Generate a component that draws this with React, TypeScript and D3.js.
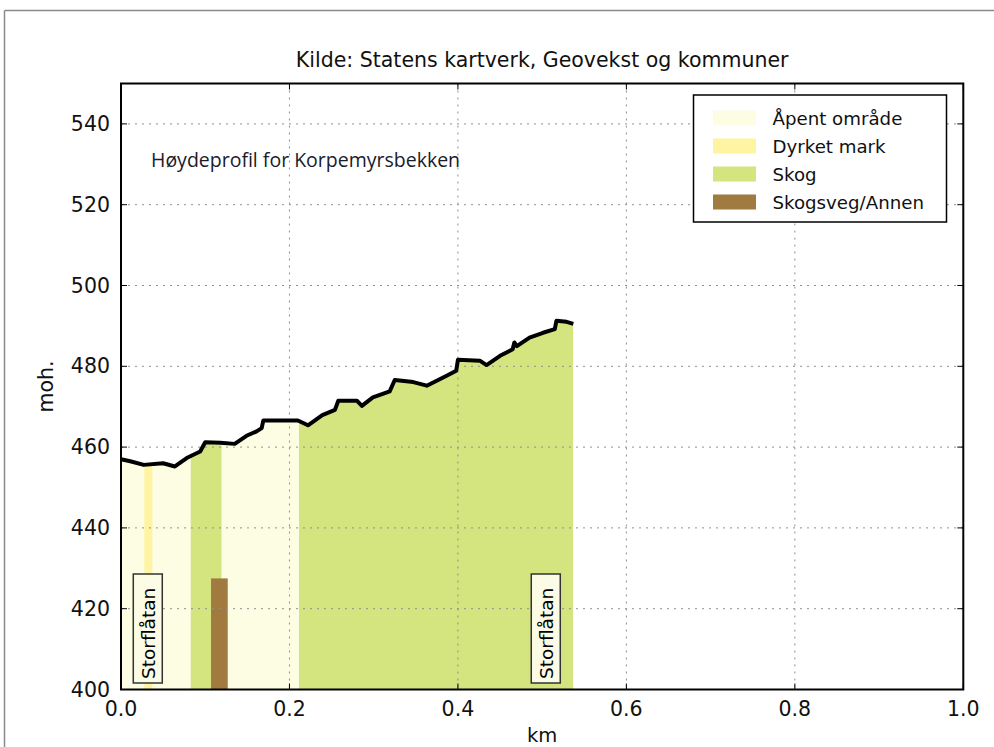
import React from 'react';
import * as d3 from 'd3';

const profileKm = [0.0, 0.011, 0.027, 0.050, 0.064, 0.078, 0.094, 0.100, 0.118, 0.135, 0.149, 0.161, 0.167, 0.169, 0.210, 0.222, 0.239, 0.254, 0.258, 0.280, 0.286, 0.299, 0.319, 0.325, 0.347, 0.363, 0.386, 0.398, 0.400, 0.426, 0.434, 0.450, 0.465, 0.467, 0.470, 0.485, 0.501, 0.515, 0.517, 0.529, 0.537];
const profileElev = [457.0, 456.5, 455.6, 456.0, 455.2, 457.3, 458.9, 461.2, 461.1, 460.8, 462.8, 463.9, 464.7, 466.6, 466.6, 465.4, 467.9, 469.2, 471.5, 471.5, 470.2, 472.3, 473.8, 476.6, 476.1, 475.2, 477.6, 478.9, 481.6, 481.4, 480.3, 482.6, 484.2, 485.9, 485.0, 487.1, 488.3, 489.2, 491.3, 491.0, 490.5];

const coverNames = ['Åpent område', 'Dyrket mark', 'Skog', 'Skogsveg/Annen'];
const coverColors = ['#fdfde3', '#fff4a2', '#d4e47f', '#a07a3f'];

const segStart = [0.0, 0.0277, 0.0828, 0.1196, 0.2113];
const segEnd = [0.0828, 0.0372, 0.1196, 0.2113, 0.537];
const segCover = [0, 1, 2, 0, 2];

const roadStart = [0.1069];
const roadEnd = [0.1267];
const roadTop = [427.5];
const roadCover = [3];

const placeNames = ['Storflåtan', 'Storflåtan'];
const placeKm = [0.0318, 0.5043];

const xTicks = [0.0, 0.2, 0.4, 0.6, 0.8, 1.0];
const yTicks = [400, 420, 440, 460, 480, 500, 520, 540];

const titleText = 'Kilde: Statens kartverk, Geovekst og kommuner';
const noteText = 'Høydeprofil for Korpemyrsbekken';
const xLabel = 'km';
const yLabel = 'moh.';

export default function App() {
  const left = 121, right = 963.3, top = 83.5, bottom = 689.5;
  const x = d3.scaleLinear().domain([0, 1]).range([left, right]);
  const y = d3.scaleLinear().domain([400, 550]).range([bottom, top]);

  const pts: [number, number][] = profileKm.map((k, i) => [k, profileElev[i]]);
  const area = d3.area<[number, number]>().x(d => x(d[0])).y0(y(400)).y1(d => y(d[1]));
  const line = d3.line<[number, number]>().x(d => x(d[0])).y(d => y(d[1]));

  const font = "'DejaVu Sans', sans-serif";
  const tickLen = 6;

  return (
    <svg width={994} height={747} style={{ position: 'absolute', left: 0, top: 0, background: '#fff' }}>
      <rect x={0} y={0} width={994} height={747} fill="#fff" />
      {/* outer frame */}
      <line x1={4.5} y1={10.5} x2={994} y2={10.5} stroke="#8a8a8a" strokeWidth={1.5} />
      <line x1={4.5} y1={10.5} x2={4.5} y2={747} stroke="#8a8a8a" strokeWidth={1.5} />

      <defs>
        <clipPath id="profileClip">
          <path d={area(pts) || ''} />
        </clipPath>
      </defs>

      <g clipPath="url(#profileClip)">
        {segStart.map((s, i) => (
          <rect key={i} x={x(s)} y={top} width={x(segEnd[i]) - x(s)} height={bottom - top} fill={coverColors[segCover[i]]} />
        ))}
      </g>
      {roadStart.map((s, i) => (
        <rect key={i} x={x(s)} y={y(roadTop[i])} width={x(roadEnd[i]) - x(s)} height={y(400) - y(roadTop[i])} fill={coverColors[roadCover[i]]} />
      ))}

      {/* grid */}
      {xTicks.map((t, i) => (
        <line key={'gx' + i} x1={x(t)} x2={x(t)} y1={top} y2={bottom} stroke="#8f8f8f" strokeWidth={1} strokeDasharray="2,5" />
      ))}
      {yTicks.map((t, i) => (
        <line key={'gy' + i} x1={left} x2={right} y1={y(t)} y2={y(t)} stroke="#8f8f8f" strokeWidth={1} strokeDasharray="2,5" />
      ))}

      {/* place labels */}
      {placeKm.map((k, i) => {
        const cx = x(k);
        const by = 683;
        const h = 109;
        const w = 29;
        return (
          <g key={'pl' + i}>
            <rect x={cx - w / 2} y={by - h} width={w} height={h} fill="#fbfbe6" stroke="#333" strokeWidth={1.5} />
            <text transform={`translate(${cx + 7},${by - 4}) rotate(-90)`} fontFamily={font} fontSize={18.5} fill="#000">{placeNames[i]}</text>
          </g>
        );
      })}

      {/* profile line */}
      <path d={line(pts) || ''} fill="none" stroke="#000" strokeWidth={4} strokeLinejoin="round" />

      {/* ticks */}
      {xTicks.map((t, i) => (
        <g key={'tx' + i}>
          <line x1={x(t)} x2={x(t)} y1={bottom} y2={bottom - tickLen} stroke="#000" strokeWidth={1} />
          <line x1={x(t)} x2={x(t)} y1={top} y2={top + tickLen} stroke="#000" strokeWidth={1} />
          <text x={x(t)} y={716} textAnchor="middle" fontFamily={font} fontSize={20.5} fill="#111">{t.toFixed(1)}</text>
        </g>
      ))}
      {yTicks.map((t, i) => (
        <g key={'ty' + i}>
          <line x1={left} x2={left + tickLen} y1={y(t)} y2={y(t)} stroke="#000" strokeWidth={1} />
          <line x1={right} x2={right - tickLen} y1={y(t)} y2={y(t)} stroke="#000" strokeWidth={1} />
          <text x={110} y={y(t) + 7} textAnchor="end" fontFamily={font} fontSize={20.5} fill="#111">{t}</text>
        </g>
      ))}

      {/* axes frame */}
      <rect x={left} y={top} width={right - left} height={bottom - top} fill="none" stroke="#000" strokeWidth={2} />

      {/* legend */}
      <g>
        <rect x={693.5} y={95} width={253} height={127} fill="#fff" stroke="#000" strokeWidth={1.5} />
        {coverNames.map((n, i) => {
          const cy = 118 + i * 28;
          return (
            <g key={'lg' + i}>
              <rect x={713} y={cy - 7.5} width={43} height={15} fill={coverColors[i]} />
              <text x={772.5} y={cy + 6.5} fontFamily={font} fontSize={18.2} fill="#111">{n}</text>
            </g>
          );
        })}
      </g>

      {/* texts */}
      <text x={(left + right) / 2} y={66.5} textAnchor="middle" fontFamily={font} fontSize={20.5} fill="#111">{titleText}</text>
      <text x={151} y={167} fontFamily="'Open Sans', sans-serif" fontSize={19.5} fill="#1b1b2a">{noteText}</text>
      <text x={(left + right) / 2} y={742} textAnchor="middle" fontFamily={font} fontSize={19.5} fill="#111">{xLabel}</text>
      <text transform={`translate(53,${(top + bottom) / 2}) rotate(-90)`} textAnchor="middle" fontFamily={font} fontSize={20.5} fill="#111">{yLabel}</text>
    </svg>
  );
}
